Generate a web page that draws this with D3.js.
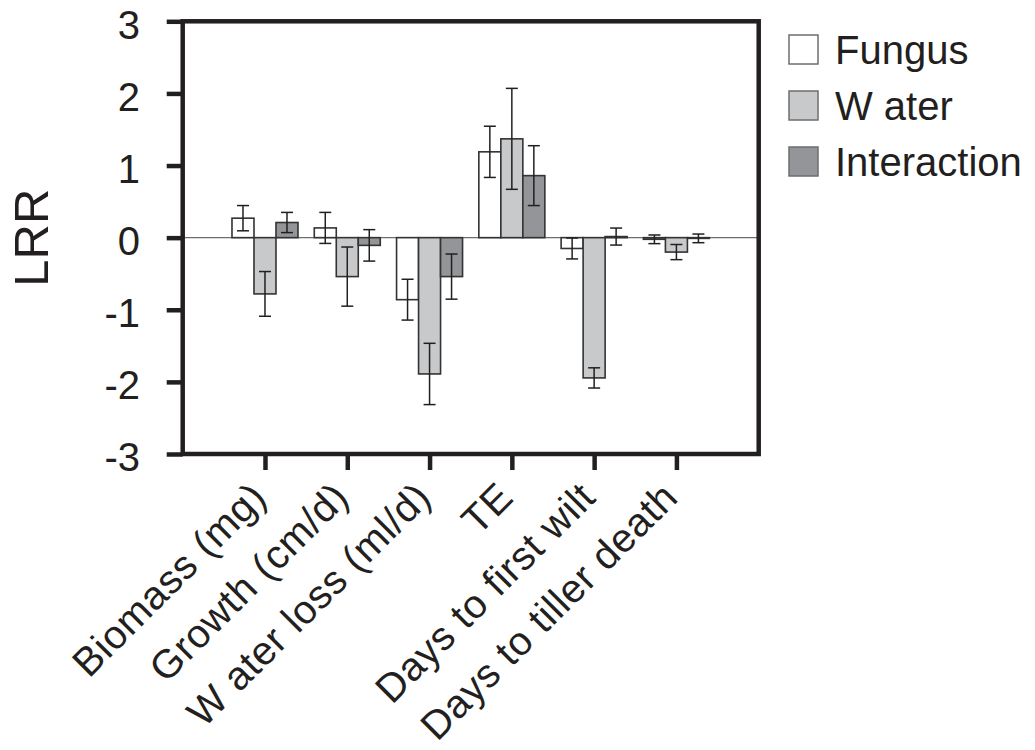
<!DOCTYPE html>
<html>
<head>
<meta charset="utf-8">
<script src="https://cdn.jsdelivr.net/npm/d3@7"></script>
<style>
  html, body { margin: 0; padding: 0; background: #fff; }
  svg { display: block; font-family: "Liberation Sans", Arial, Helvetica, sans-serif; }
</style>
</head>
<body>
<svg id="chart" width="1035" height="750"></svg>
<script>
// Log response ratios (LRR) per response variable
const categories = ["Biomass (mg)", "Growth (cm/d)", "W ater loss (ml/d)", "TE", "Days to first wilt", "Days to tiller death"];
const seriesNames = ["Fungus", "W ater", "Interaction"];

const fungus         = [0.27, 0.135, -0.86, 1.19, -0.15, -0.023];
const fungusErr      = [0.175, 0.215, 0.283, 0.355, 0.145, 0.06];
const water          = [-0.78, -0.54, -1.89, 1.37, -1.945, -0.20];
const waterErr       = [0.31, 0.41, 0.425, 0.70, 0.14, 0.105];
const interaction    = [0.21, -0.107, -0.54, 0.86, 0.015, -0.01];
const interactionErr = [0.14, 0.218, 0.313, 0.415, 0.118, 0.06];

const yTicks = [-3, -2, -1, 0, 1, 2, 3];
const yLabel = "LRR";

const fills = ["#ffffff", "#c8c9cb", "#939598"];
const ink = "#231f20";

const series = [
  { name: seriesNames[0], values: fungus, errs: fungusErr, fill: fills[0] },
  { name: seriesNames[1], values: water, errs: waterErr, fill: fills[1] },
  { name: seriesNames[2], values: interaction, errs: interactionErr, fill: fills[2] }
];

const margin = { left: 182.7, top: 21.3 };
const W = 576, H = 432.7;

const svg = d3.select("#chart");
const g = svg.append("g").attr("transform", `translate(${margin.left},${margin.top})`);

const x = d3.scalePoint().domain(categories).range([0, W]).padding(1);
const groupW = 66;
const xs = d3.scaleBand().domain(seriesNames).range([-groupW / 2, groupW / 2]).padding(0);
const y = d3.scaleLinear().domain([-3, 3]).range([H, 0]);

// zero reference line
g.append("line")
  .attr("x1", 0).attr("x2", W)
  .attr("y1", y(0)).attr("y2", y(0))
  .attr("stroke", "#6d6e71").attr("stroke-width", 1.3);

// bars
const groups = g.selectAll("g.cat")
  .data(categories)
  .join("g")
  .attr("class", "cat")
  .attr("transform", d => `translate(${x(d)},0)`);

series.forEach(s => {
  groups.append("rect")
    .attr("x", (d, i) => xs(s.name))
    .attr("width", xs.bandwidth())
    .attr("y", (d, i) => y(Math.max(0, s.values[i])))
    .attr("height", (d, i) => Math.abs(y(s.values[i]) - y(0)))
    .attr("fill", s.fill)
    .attr("stroke", "#333")
    .attr("stroke-width", 1.6);
});

// error bars
const capW = 12;
series.forEach(s => {
  groups.each(function (d, i) {
    const cx = xs(s.name) + xs.bandwidth() / 2;
    const hi = y(s.values[i] + s.errs[i]);
    const lo = y(s.values[i] - s.errs[i]);
    const eg = d3.select(this).append("g")
      .attr("stroke", ink).attr("stroke-width", 1.5).attr("fill", "none");
    eg.append("line").attr("x1", cx).attr("x2", cx).attr("y1", hi).attr("y2", lo);
    eg.append("line").attr("x1", cx - capW / 2).attr("x2", cx + capW / 2).attr("y1", hi).attr("y2", hi);
    eg.append("line").attr("x1", cx - capW / 2).attr("x2", cx + capW / 2).attr("y1", lo).attr("y2", lo);
  });
});

// frame
g.append("rect")
  .attr("x", 0).attr("y", 0).attr("width", W).attr("height", H)
  .attr("fill", "none").attr("stroke", ink).attr("stroke-width", 4.5);

// y axis
const yAxis = g.append("g")
  .call(d3.axisLeft(y).tickValues(yTicks).tickSize(16).tickPadding(26.7).tickFormat(d3.format("d")));
yAxis.select(".domain").remove();
yAxis.selectAll(".tick line").attr("stroke", ink).attr("stroke-width", 4.5);
yAxis.selectAll(".tick text")
  .attr("dy", "0.42em")
  .attr("fill", ink)
  .style("font-size", "40px")
  .text(d => d < 0 ? "-" + Math.abs(d) : String(d));

// x axis
const xAxis = g.append("g")
  .attr("transform", `translate(0,${H})`)
  .call(d3.axisBottom(x).tickSize(16));
xAxis.select(".domain").remove();
xAxis.selectAll(".tick line").attr("stroke", ink).attr("stroke-width", 4.5);
xAxis.selectAll(".tick text")
  .attr("x", 0).attr("y", 0).attr("dy", 0)
  .attr("text-anchor", "end")
  .attr("transform", "translate(3,45.5) rotate(-45)")
  .attr("fill", ink)
  .style("font-size", "40px")
  .style("letter-spacing", "0.6px");

// y axis title
svg.append("text")
  .attr("transform", `translate(48,${margin.top + y(0)}) rotate(-90)`)
  .attr("text-anchor", "middle")
  .attr("fill", ink)
  .style("font-size", "49px")
  .text(yLabel);

// legend
const legend = svg.append("g").attr("transform", "translate(789,35)");
const li = legend.selectAll("g").data(series).join("g")
  .attr("transform", (d, i) => `translate(0,${i * 56})`);
li.append("rect")
  .attr("width", 29).attr("height", 29)
  .attr("fill", d => d.fill)
  .attr("stroke", "#6d6e71").attr("stroke-width", 1.5);
li.append("text")
  .attr("x", 46).attr("y", 29.3)
  .attr("fill", ink)
  .style("font-size", "40px")
  .text(d => d.name);
</script>
</body>
</html>
